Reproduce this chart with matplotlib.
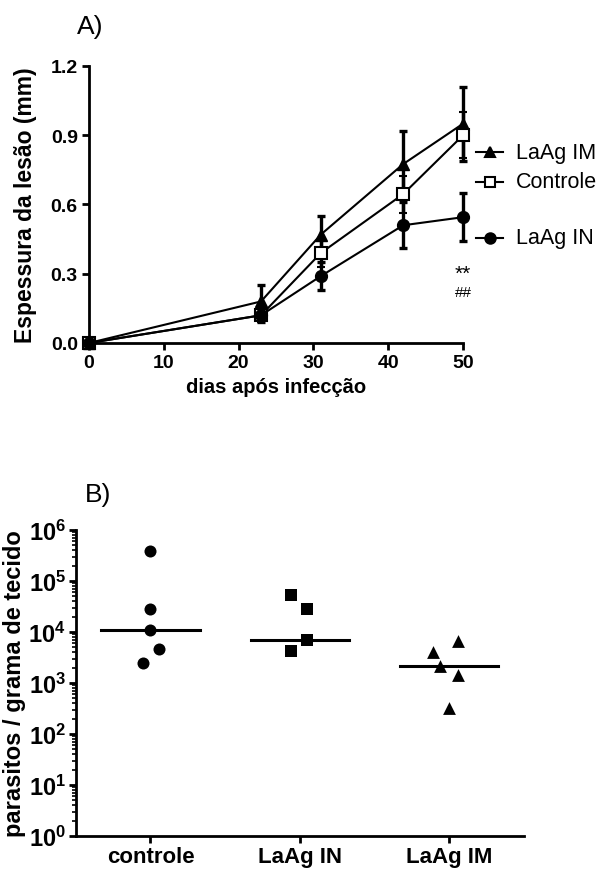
import matplotlib.pyplot as plt
import numpy as np
from matplotlib.lines import Line2D
from matplotlib.ticker import LogLocator, NullFormatter

plt.rcParams["font.family"] = ["Liberation Sans", "DejaVu Sans"]
plt.rcParams["mathtext.fontset"] = "custom"
plt.rcParams["mathtext.bf"] = "Liberation Sans:bold"
plt.rcParams["mathtext.rm"] = "Liberation Sans"

# panel A: lesion thickness over time
days = [0, 23, 31, 42, 50]
im_mean = [0.0, 0.18, 0.47, 0.775, 0.95]
im_err = [0.0, 0.07, 0.08, 0.145, 0.16]
ctrl_mean = [0.0, 0.12, 0.39, 0.645, 0.90]
ctrl_err = [0.0, 0.03, 0.06, 0.08, 0.10]
in_mean = [0.0, 0.12, 0.29, 0.51, 0.545]
in_err = [0.0, 0.03, 0.06, 0.10, 0.105]

# panel B: parasite load per group
groups = ["controle", "LaAg IN", "LaAg IM"]
ctrl_load = [3.9e5, 2.8e4, 1.1e4, 4.7e3, 2.5e3]
in_load = [5.3e4, 2.8e4, 6.9e3, 6.9e3, 4.3e3]
im_load = [6.6e3, 4.1e3, 2.2e3, 1.45e3, 3.2e2]

# horizontal jitter of the scatter points (layout only)
ctrl_jit = [0.0, 0.0, 0.0, 0.06, -0.05]
in_jit = [-0.06, 0.05, 0.05, 0.05, -0.06]
im_jit = [0.06, -0.11, -0.06, 0.06, 0.0]

fig = plt.figure(figsize=(5.97, 8.70), dpi=100)

# ---------- A ----------
ax = fig.add_axes([0.149, 0.6046, 0.6266, 0.3184])
style = dict(color="black", lw=1.5, elinewidth=2.4, capsize=3, capthick=2.4,
             clip_on=False, zorder=3)
ax.errorbar(days, im_mean, yerr=im_err, marker="^", ms=9, mfc="black", **style)
ax.errorbar(days, ctrl_mean, yerr=ctrl_err, marker="s", ms=8, mfc="white",
            mew=1.5, **style)
ax.errorbar(days, in_mean, yerr=in_err, marker="o", ms=8.5, mfc="black", **style)

ax.set_xlim(0, 50)
ax.set_ylim(0, 1.2)
ax.set_xticks(np.arange(0, 51, 10))
ax.set_yticks(np.arange(0, 1.21, 0.3))
ax.set_yticklabels(["0.0", "0.3", "0.6", "0.9", "1.2"])
for s in ["top", "right"]:
    ax.spines[s].set_visible(False)
for s in ["left", "bottom"]:
    ax.spines[s].set_linewidth(2)
ax.tick_params(width=2, length=5, labelsize=14, pad=3)
for lab in ax.get_xticklabels() + ax.get_yticklabels():
    lab.set_fontweight("bold")
ax.set_xlabel("dias após infecção", fontsize=14.5, fontweight="bold", labelpad=4)
ax.set_ylabel("Espessura da lesão (mm)", fontsize=16.5, fontweight="bold", labelpad=10)

# hand-placed legend, as in the original
leg = [("LaAg IM", "^", "black", 153), ("Controle", "s", "white", 183),
       ("LaAg IN", "o", "black", 239)]
for name, mk, fc, ypix in leg:
    yf = 1 - ypix / 870
    fig.add_artist(Line2D([476 / 597, 503 / 597], [yf, yf], color="black", lw=1.5,
                          transform=fig.transFigure))
    fig.add_artist(Line2D([489.5 / 597], [yf], color="black", marker=mk, ms=7.5,
                          mfc=fc, mew=1.5, transform=fig.transFigure))
    fig.text(516 / 597, yf, name, fontsize=15.5, va="center", ha="left")

fig.text(463 / 597, 1 - 274 / 870, "**", fontsize=15, ha="center", va="center")
fig.text(463 / 597, 1 - 293 / 870, "##", fontsize=11, ha="center", va="center")
fig.text(77 / 597, 1 - 27 / 870, "A)", fontsize=19, ha="left", va="center")

# ---------- B ----------
bx = fig.add_axes([0.127, 0.0379, 0.7505, 0.3518])
loads = [ctrl_load, in_load, im_load]
jits = [ctrl_jit, in_jit, im_jit]
marks = ["o", "s", "^"]
sizes = [75, 70, 85]
for i, (vals, jit, mk, sz) in enumerate(zip(loads, jits, marks, sizes)):
    xs = [i + 1 + j for j in jit]
    bx.scatter(xs, vals, marker=mk, s=sz, color="black", zorder=3, linewidths=0)
    med = np.median(vals)
    bx.plot([i + 1 - 0.33, i + 1 + 0.33], [med, med], color="black", lw=2.2)

bx.set_yscale("log")
bx.set_ylim(1, 1e6)
bx.set_xlim(0.5, 3.5)
bx.set_xticks([1, 2, 3])
bx.set_xticklabels(groups, fontsize=16, fontweight="bold")
bx.set_yticks([10.0 ** k for k in range(7)])
bx.set_yticklabels([r"$\mathbf{10^{%d}}$" % k for k in range(7)], fontsize=17)
bx.yaxis.set_minor_locator(LogLocator(base=10, subs=np.arange(2, 10) * 1.0, numticks=20))
bx.yaxis.set_minor_formatter(NullFormatter())
for s in ["top", "right"]:
    bx.spines[s].set_visible(False)
for s in ["left", "bottom"]:
    bx.spines[s].set_linewidth(2)
bx.tick_params(which="major", width=2, length=5, pad=2)
bx.tick_params(which="minor", width=1.2, length=3)
bx.set_ylabel("parasitos / grama de tecido", fontsize=17, fontweight="bold", labelpad=2)
fig.text(85 / 597, 1 - 495 / 870, "B)", fontsize=19, ha="left", va="center")

fig.savefig("out.png", dpi=100)
